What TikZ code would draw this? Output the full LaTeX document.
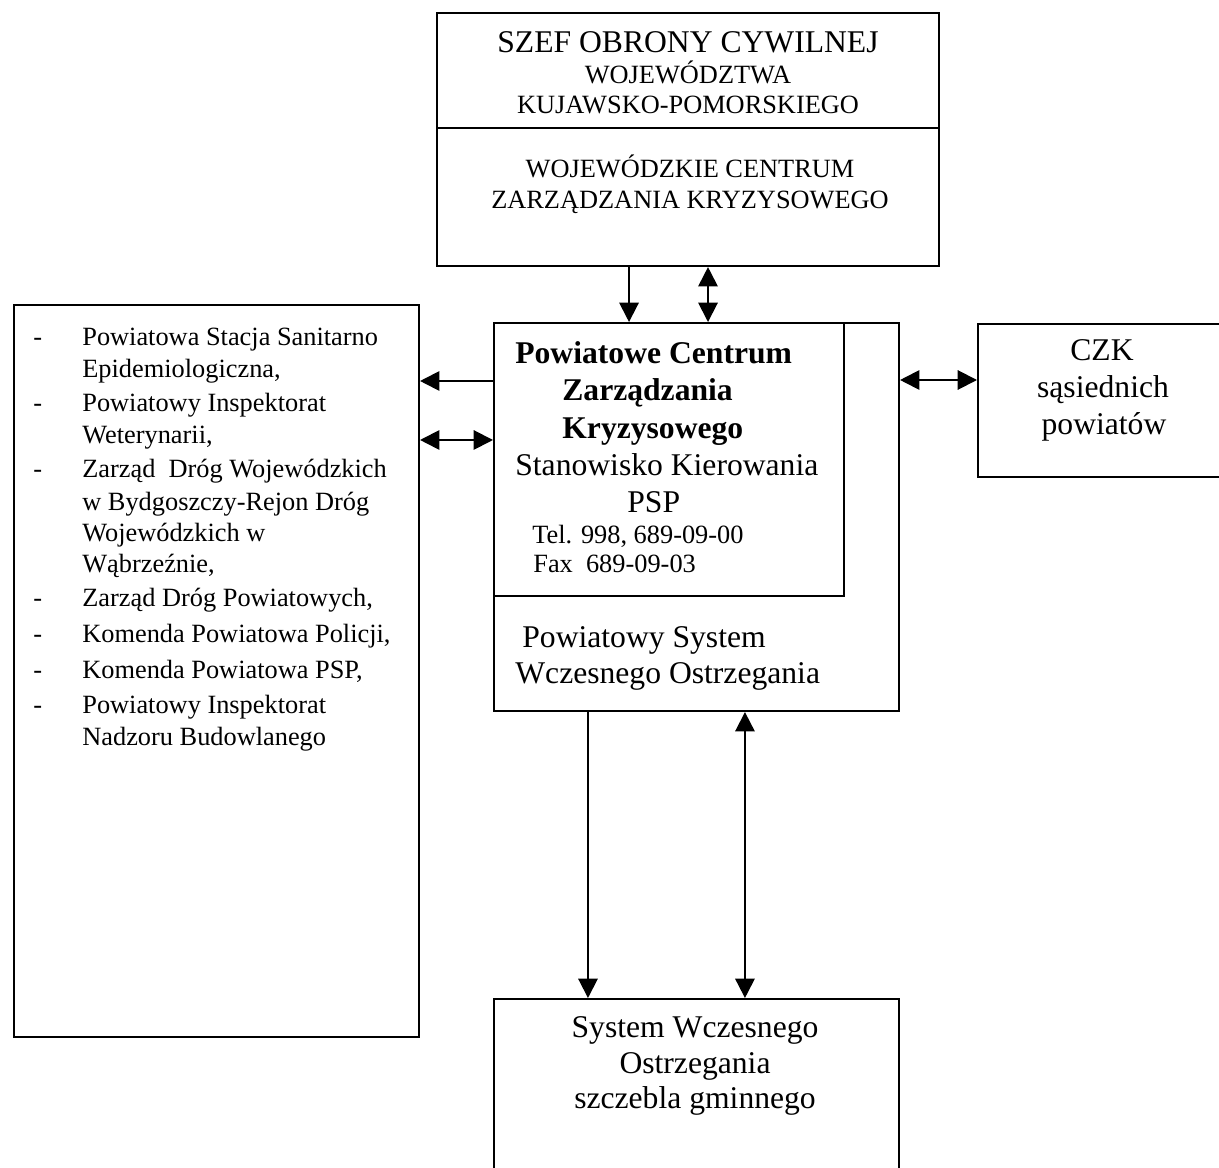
\documentclass[tikz,border=0pt]{standalone}
\usepackage{fontspec}
\setmainfont{Liberation Serif}
\usetikzlibrary{arrows.meta}
\begin{document}
\begin{tikzpicture}[x=0.02cm, y=-0.02cm,
    blok/.style={draw, line width=1.2pt, inner sep=0pt, anchor=north west},
    pijl/.style={line width=1.1pt, -{Triangle[width=11pt,length=11pt]}},
    dpijl/.style={line width=1.1pt, {Triangle[width=11pt,length=11pt]}-{Triangle[width=11pt,length=11pt]}},
    duzy/.style={font=\fontsize{18}{21}\selectfont, inner sep=0pt},
    maly/.style={font=\fontsize{15}{18}\selectfont, inner sep=0pt}]
      \useasboundingbox (0, 0) rectangle (1219, 1167) ;

      \node[blok, minimum width=10.04cm, minimum height=5.06cm] (woj) at (436, 12) {} ;
      \draw[line width=1.2pt] ([yshift=-2.32cm]woj.north west) -- ([yshift=-2.32cm]woj.north east) ;
      \node[duzy, anchor=base] (szef) at (688, 52) {SZEF OBRONY CYWILNEJ} ;
      \node[maly, anchor=base] (wojt) at (688, 83) {WOJEWÓDZTWA} ;
      \node[maly, anchor=base] (kuj) at (688, 113) {KUJAWSKO-POMORSKIEGO} ;
      \node[maly, anchor=base] (wczk) at (690, 177) {WOJEWÓDZKIE CENTRUM} ;
      \node[maly, anchor=base] (zkr) at (690, 208) {ZARZĄDZANIA KRYZYSOWEGO} ;

      \node[blok, minimum width=8.1cm, minimum height=7.76cm] (psw) at (493, 322) {} ;
      \node[blok, minimum width=7cm, minimum height=5.46cm] (pcz) at (493, 322) {} ;
      \node[duzy, anchor=base west, font=\fontsize{18}{21}\selectfont\bfseries] (pc1) at (515, 363) {Powiatowe Centrum} ;
      \node[duzy, anchor=base west, font=\fontsize{18}{21}\selectfont\bfseries] (pc2) at (562, 400) {Zarządzania} ;
      \node[duzy, anchor=base west, font=\fontsize{18}{21}\selectfont\bfseries] (pc3) at (562, 438) {Kryzysowego} ;
      \node[duzy, anchor=base west] (sk) at (515, 475) {Stanowisko Kierowania} ;
      \node[duzy, anchor=base west] (psp) at (627, 512) {PSP} ;
      \node[maly, anchor=base west] (tel) at (532, 543) {Tel. 998, 689-09-00} ;
      \node[maly, anchor=base west] (fax) at (533, 572) {Fax\ \ 689-09-03} ;
      \node[duzy, anchor=base west] (ps1) at (522, 647) {Powiatowy System} ;
      \node[duzy, anchor=base west] (ps2) at (515, 683) {Wczesnego Ostrzegania} ;

      \node[blok, minimum width=5cm, minimum height=3.06cm] (czk) at (977, 323) {} ;
      \node[duzy, anchor=base] (czk1) at (1102, 360) {CZK} ;
      \node[duzy, anchor=base] (czk2) at (1103, 397) {sąsiednich} ;
      \node[duzy, anchor=base] (czk3) at (1104, 434) {powiatów} ;

      \node[blok, minimum width=8.1cm, minimum height=14.64cm] (inst) at (13, 304) {} ;
      \foreach \y/\t [count=\i] in {345/Powiatowa Stacja Sanitarno, 377/{Epidemiologiczna,},
          411/Powiatowy Inspektorat, 443/{Weterynarii,}, 477/Zarząd\ \ Dróg Wojewódzkich,
          510/w Bydgoszczy-Rejon Dróg, 541/Wojewódzkich w, 572/{Wąbrzeźnie,},
          606/{Zarząd Dróg Powiatowych,}, 642/{Komenda Powiatowa Policji,},
          678/{Komenda Powiatowa PSP,}, 713/Powiatowy Inspektorat, 745/Nadzoru Budowlanego}
        \node[maly, anchor=base west] (l\i) at (82, \y) {\t} ;
      \foreach \y [count=\i] in {345, 411, 477, 606, 642, 678, 713}
        \node[maly, anchor=base west] (d\i) at (33, \y) {-} ;

      \node[blok, minimum width=8.1cm, minimum height=3.6cm] (gmina) at (493, 998) {} ;
      \node[duzy, anchor=base] (g1) at (695, 1037) {System Wczesnego} ;
      \node[duzy, anchor=base] (g2) at (695, 1073) {Ostrzegania} ;
      \node[duzy, anchor=base] (g3) at (695, 1108) {szczebla gminnego} ;

      \draw[pijl] ([xshift=-1.18cm]woj.south) -- ([xshift=-1.18cm]woj.south |- pcz.north) ;
      \draw[dpijl] ([xshift=0.4cm]woj.south) -- ([xshift=0.4cm]woj.south |- pcz.north) ;
      \draw[pijl] ([yshift=-1.18cm]pcz.north west) -- ([yshift=-1.18cm]pcz.north west -| inst.east) ;
      \draw[dpijl] ([yshift=-2.36cm]pcz.north west) -- ([yshift=-2.36cm]pcz.north west -| inst.east) ;
      \draw[dpijl] ([yshift=-1.16cm]psw.north east) -- ([yshift=-1.16cm]psw.north east -| czk.west) ;
      \draw[pijl] ([xshift=1.9cm]psw.south west) -- ([xshift=1.9cm]psw.south west |- gmina.north) ;
      \draw[dpijl] ([xshift=5.04cm]psw.south west) -- ([xshift=5.04cm]psw.south west |- gmina.north) ;
\end{tikzpicture}
\end{document}
